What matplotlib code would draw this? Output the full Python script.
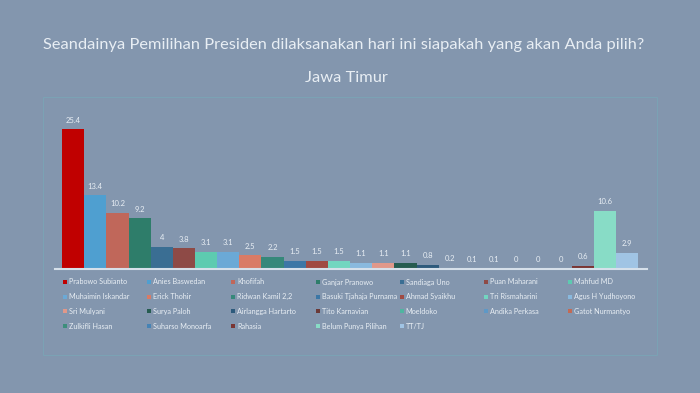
import matplotlib.pyplot as plt
from matplotlib.patches import Rectangle

plt.rcParams['font.family'] = ['Lato', 'DejaVu Sans']

# Data
names = ['Prabowo Subianto', 'Anies Baswedan', 'Khofifah', 'Ganjar Pranowo', 'Sandiaga Uno',
         'Puan Maharani', 'Mahfud MD', 'Muhaimin Iskandar', 'Erick Thohir', 'Ridwan Kamil 2,2',
         'Basuki Tjahaja Purnama', 'Ahmad Syaikhu', 'Tri Rismaharini', 'Agus H Yudhoyono',
         'Sri Mulyani', 'Surya Paloh', 'Airlangga Hartarto', 'Tito Karnavian', 'Moeldoko',
         'Andika Perkasa', 'Gatot Nurmantyo', 'Zulkifli Hasan', 'Suharso Monoarfa', 'Rahasia',
         'Belum Punya Pilihan', 'TT/TJ']
values = [25.4, 13.4, 10.2, 9.2, 4, 3.8, 3.1, 3.1, 2.5, 2.2, 1.5, 1.5, 1.5, 1.1,
          1.1, 1.1, 0.8, 0.2, 0.1, 0.1, 0, 0, 0, 0.6, 10.6, 2.9]
colors = ['#C00000', '#4F9FD0', '#C0675A', '#2E7D6A', '#3A6E93', '#8E4A46', '#5DCBB0',
          '#6BA9D6', '#D97B66', '#36887A', '#3C77A6', '#A04A42', '#72D6C0', '#89B9DE',
          '#E0988A', '#265C50', '#2D5A7C', '#6B3A38', '#4FB5A0', '#5E98C6', '#C26A55',
          '#3D8E7B', '#4683B5', '#7A3533', '#88DCC6', '#A0C4E4']

title = 'Seandainya Pemilihan Presiden dilaksanakan hari ini siapakah yang akan Anda pilih?'
subtitle = 'Jawa Timur'

bg = '#8396AE'
txt = '#E8EEF4'
W, H = 700, 393

fig = plt.figure(figsize=(7, 3.93), dpi=100, facecolor=bg)

# chart frame
fig.patches.append(Rectangle((43 / W, 1 - 355 / H), 614 / W, 258 / H, transform=fig.transFigure,
                             fill=False, edgecolor='#7BA2B4', linewidth=0.8))

fig.text(344 / W, 1 - 45 / H, title, ha='center', va='center', fontsize=11.8, color=txt)
fig.text(346 / W, 1 - 78 / H, subtitle, ha='center', va='center', fontsize=11.8, color=txt)

# axes: baseline at y=269 px, 5.5 px per unit
ax = fig.add_axes([55 / W, 1 - 269 / H, 592 / W, 172 / H])
ax.set_facecolor(bg)
x = list(range(len(values)))
bars = ax.bar(x, values, width=1.0, color=colors, linewidth=0)
ax.set_xlim(-0.82, 25.9)
ax.set_ylim(0, 172 / 5.5)
for b, v in zip(bars, values):
    ax.annotate('{:g}'.format(v), (b.get_x() + b.get_width() / 2, v), xytext=(0, 4),
                textcoords='offset points', ha='center', va='bottom', fontsize=5.5, color=txt)
for s in ['top', 'right', 'left']:
    ax.spines[s].set_visible(False)
ax.spines['bottom'].set_color('#D6E0EA')
ax.spines['bottom'].set_linewidth(1.5)
ax.set_xticks([])
ax.set_yticks([])

# legend, row-major like the original
for i, (n, c) in enumerate(zip(names, colors)):
    r, col = divmod(i, 7)
    lx = 65 + col * 84.2
    ly = 282 + r * 14.7
    fig.patches.append(Rectangle(((lx - 2) / W, 1 - (ly + 2) / H), 4 / W, 4 / H,
                                 transform=fig.transFigure, facecolor=c, edgecolor='none'))
    fig.text((lx + 4) / W, 1 - ly / H, n, ha='left', va='center', fontsize=5.2, color=txt)

fig.savefig('out.png', dpi=100, facecolor=bg)
